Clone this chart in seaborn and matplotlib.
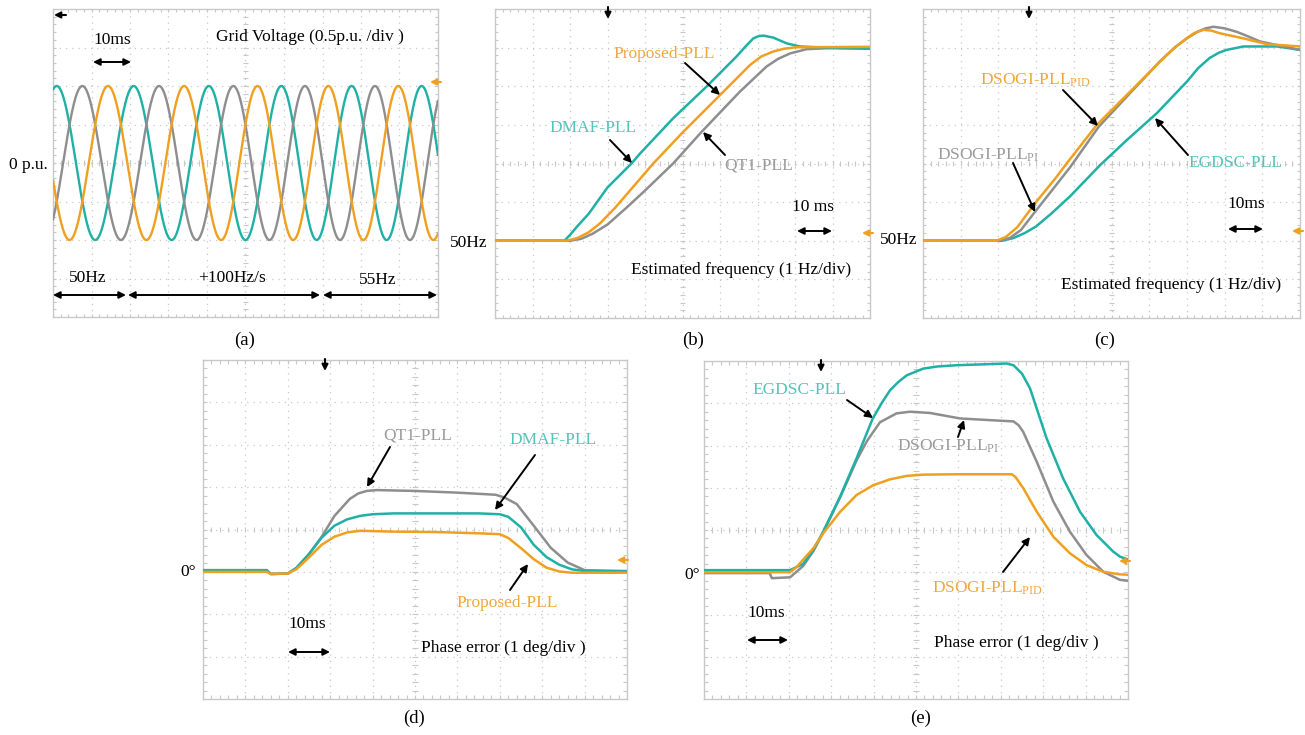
import numpy as np
import pandas as pd
import matplotlib
matplotlib.use("Agg")
import matplotlib.pyplot as plt
from matplotlib.patches import FancyArrowPatch
import seaborn as sns

# ---------------- data ----------------
# (a) grid voltage, three phases; frequency profile as labelled in the chart
va_amplitude_pu = 1.0
f_start_hz = 50.0
f_end_hz = 55.0
rocof_hz_per_s = 100.0
ramp_start_ms = 18.7
phase_a_peak_ms = 0.96
phase_names = ["Va", "Vb", "Vc"]
phase_shift_deg = [0, -120, 120]

# (b) estimated frequency (Hz) vs time (ms)
b_dmaf_t = [0, 18.5, 20, 22, 25, 30, 36.4, 38.7, 47.5, 56.4, 64.4, 67, 68.9, 70.3, 71.6, 74.2, 77.8, 81.3, 92, 100]
b_dmaf_f = [50, 50, 50.15, 50.38, 50.7, 51.38, 52.0, 52.26, 53.17, 53.99, 54.77, 55.05, 55.24, 55.3, 55.31, 55.26, 55.11, 55.03, 54.98, 54.97]
b_prop_t = [0, 19, 22, 25, 28, 32, 36, 42.2, 50, 60, 68, 71, 74.2, 77, 80.4, 100]
b_prop_f = [50, 50, 50.07, 50.22, 50.45, 50.85, 51.3, 52.0, 52.8, 53.77, 54.55, 54.77, 54.9, 54.97, 55.01, 55.02]
b_qt1_t = [0, 20, 23, 26, 30, 35, 40, 47.5, 55.1, 65.3, 72.4, 75.5, 78.7, 83.1, 92, 100]
b_qt1_f = [50, 50, 50.05, 50.18, 50.42, 50.85, 51.3, 52.0, 52.82, 53.86, 54.51, 54.71, 54.85, 54.96, 55.0, 55.0]

# (c) estimated frequency (Hz) vs time (ms)
c_pid_t = [0, 19.5, 22, 25, 29.8, 35, 38.1, 46.1, 54, 62.9, 66.5, 69.9, 72, 74.4, 76.5, 78.8, 85, 91.2, 100]
c_pid_f = [50, 50, 50.1, 50.35, 50.98, 51.6, 52.0, 53.0, 53.77, 54.64, 54.98, 55.24, 55.38, 55.46, 55.44, 55.37, 55.24, 55.09, 55.03]
c_pi_t = [0, 20, 23, 26, 29.8, 34, 39, 46.6, 55, 63, 67, 70, 73, 75, 77, 80, 83.2, 86, 89.4, 94.7, 100]
c_pi_f = [50, 50, 50.07, 50.28, 50.76, 51.28, 51.9, 52.95, 53.83, 54.66, 55.02, 55.24, 55.42, 55.5, 55.54, 55.5, 55.41, 55.3, 55.16, 55.05, 54.94]
c_egdsc_t = [0, 21, 24, 27, 30, 34, 39, 47, 54, 62, 70, 73, 76, 78.5, 80.5, 85, 94, 100]
c_egdsc_f = [50, 50, 50.07, 50.2, 50.37, 50.7, 51.15, 51.96, 52.6, 53.3, 54.12, 54.47, 54.73, 54.87, 54.94, 55.03, 55.03, 54.94]

# (d) phase error (deg) vs time (ms)
d_prop_t = [0, 15, 16, 20, 22, 25, 28, 31, 34, 37, 45, 55, 65, 70, 72, 75, 78, 81, 84, 87, 100]
d_prop_e = [0, 0, -0.05, -0.04, 0.06, 0.34, 0.64, 0.83, 0.93, 0.97, 0.95, 0.94, 0.91, 0.89, 0.80, 0.56, 0.30, 0.10, 0.01, -0.02, -0.02]
d_dmaf_t = [0, 15, 16, 20, 22, 25, 28, 31, 34, 37, 40, 45, 55, 65, 70, 72, 75, 78, 81, 84, 87, 90, 100]
d_dmaf_e = [0.04, 0.04, -0.05, -0.04, 0.09, 0.42, 0.81, 1.09, 1.24, 1.32, 1.36, 1.38, 1.38, 1.38, 1.36, 1.30, 1.05, 0.64, 0.35, 0.17, 0.06, 0.02, 0.01]
d_qt1_t = [0, 15, 16, 20, 22, 25, 28, 31, 34.6, 36.6, 38.6, 41, 50, 60, 69, 71, 74, 78, 82, 86, 90, 100]
d_qt1_e = [0.04, 0.04, -0.05, -0.04, 0.09, 0.42, 0.83, 1.32, 1.72, 1.85, 1.91, 1.93, 1.91, 1.87, 1.82, 1.76, 1.60, 1.09, 0.57, 0.22, 0.04, 0.02]

# (e) phase error (deg) vs time (ms)
e_egdsc_t = [0, 15.6, 20.3, 23.4, 25.8, 28.1, 32.1, 36, 39.8, 42, 43.9, 45.8, 47.8, 51.7, 55, 59.6, 71.4, 73, 75, 76.9, 80.8, 84.7, 88.7, 92.6, 96.5, 98.1, 100]
e_egdsc_e = [0.05, 0.05, 0.05, 0.2, 0.53, 0.96, 1.79, 2.7, 3.64, 4.02, 4.31, 4.5, 4.66, 4.82, 4.87, 4.9, 4.94, 4.9, 4.7, 4.35, 3.17, 2.22, 1.43, 0.88, 0.49, 0.37, 0.3]
e_pi_t = [0, 15.5, 16, 20.3, 23.4, 25.8, 28.1, 32.1, 36, 38.4, 41.5, 45.4, 48.6, 53.3, 60.4, 67.5, 73, 74.2, 75.3, 78.5, 82.4, 86.3, 90.2, 94.2, 98.1, 100]
e_pi_e = [-0.02, -0.02, -0.14, -0.12, 0.15, 0.5, 0.94, 1.77, 2.65, 3.1, 3.55, 3.76, 3.8, 3.77, 3.64, 3.6, 3.57, 3.48, 3.32, 2.61, 1.67, 0.96, 0.41, 0.01, -0.18, -0.2]
e_pid_t = [0, 15.5, 20.3, 21.9, 25.8, 28.1, 32.1, 36, 39.9, 43.9, 47.8, 51.7, 60, 72.6, 73.5, 75.3, 78.5, 82.4, 86.3, 90.2, 94.2, 98.1, 100]
e_pid_e = [0, 0, 0, 0.13, 0.57, 0.92, 1.43, 1.83, 2.06, 2.2, 2.28, 2.31, 2.32, 2.32, 2.25, 1.99, 1.43, 0.84, 0.45, 0.17, 0.01, -0.05, -0.06]

# ---------------- style ----------------
TEAL = "#1fb0a6"
GRAY = "#8e8e8e"
ORANGE = "#f0a020"
TEAL_T = "#55c3bb"
GRAY_T = "#9a9a9a"
ORANGE_T = "#f0a83a"
GRID = "#c8c8c8"
FS = 12.5

sns.set_theme(style="white")
plt.rcParams["font.family"] = ["Liberation Serif", "DejaVu Serif"]
plt.rcParams["mathtext.fontset"] = "custom"
plt.rcParams["mathtext.rm"] = "Liberation Serif"
plt.rcParams["mathtext.it"] = "Liberation Serif:italic"
plt.rcParams["mathtext.bf"] = "Liberation Serif:bold"

W, H = 1305, 735
fig = plt.figure(figsize=(W / 100, H / 100), dpi=100)
fig.patch.set_facecolor("white")


def add_panel(x0, y0, x1, y1):
    return fig.add_axes([x0 / W, 1 - y1 / H, (x1 - x0) / W, (y1 - y0) / H])


def scope(ax, ylo, per_div):
    ax.set_facecolor("white")
    ax.set_xlim(0, 100)
    ax.set_ylim(ylo, ylo + 8 * per_div)
    ax.set_xticks([])
    ax.set_yticks([])
    ax.set_xlabel("")
    ax.set_ylabel("")
    yhi = ylo + 8 * per_div
    for i in range(1, 10):
        ax.axvline(i * 10, color=GRID, lw=0.9, ls=(0, (1, 4)), zorder=0)
    for j in range(1, 8):
        ax.axhline(ylo + j * per_div, color=GRID, lw=0.9, ls=(0, (1, 4)), zorder=0)
    xm = np.arange(0, 100.01, 2)
    ym = ylo + np.arange(0, 8.001, 0.2) * per_div
    yc = ylo + 4 * per_div
    kw = dict(color=GRID, lw=0.8, zorder=0)
    ax.vlines(xm, yc - 0.07 * per_div, yc + 0.07 * per_div, **kw)
    ax.hlines(ym, 50 - 0.7, 50 + 0.7, **kw)
    ax.vlines(xm, ylo, ylo + 0.09 * per_div, **kw)
    ax.vlines(xm, yhi - 0.09 * per_div, yhi, **kw)
    ax.hlines(ym, 0, 0.9, **kw)
    ax.hlines(ym, 99.1, 100, **kw)
    for s in ax.spines.values():
        s.set_color(GRID)
        s.set_linewidth(1.0)


def trace(ax, t, y, color):
    sns.lineplot(x=t, y=y, ax=ax, color=color, lw=1.8, estimator=None, sort=False, zorder=3)


def fx(x, y):
    return (x / W, 1 - y / H)


def txt(x, y, s, color="black", size=FS, ha="center"):
    fig.text(x / W, 1 - y / H, s, color=color, fontsize=size, ha=ha, va="center")


def arrow(x0, y0, x1, y1, style="-|>", color="black", lw=1.4, ms=11):
    p = FancyArrowPatch(fx(x0, y0), fx(x1, y1), transform=fig.transFigure,
                        arrowstyle=style, mutation_scale=ms, lw=lw, color=color,
                        shrinkA=0, shrinkB=0, zorder=10)
    fig.add_artist(p)


def marker_down(x, y):
    arrow(x, y - 8, x, y + 4, ms=9, lw=1.5)


def marker_left(x, y, color):
    arrow(x + 9, y, x - 2, y, ms=9, lw=1.5, color=color)


# ---------------- (a) grid voltage ----------------
ax_a = add_panel(53, 9, 438, 317)
t_a = np.linspace(0, 100, 2001)
ts = t_a / 1000.0
tr = ramp_start_ms / 1000.0
t_end = tr + (f_end_hz - f_start_hz) / rocof_hz_per_s
cyc = f_start_hz * ts
cyc = np.where(ts > tr, f_start_hz * ts + 0.5 * rocof_hz_per_s * (ts - tr) ** 2, cyc)
cyc_end = f_start_hz * t_end + 0.5 * rocof_hz_per_s * (t_end - tr) ** 2
cyc = np.where(ts > t_end, cyc_end + f_end_hz * (ts - t_end), cyc)
theta = 2 * np.pi * (cyc - f_start_hz * phase_a_peak_ms / 1000.0)
rows = []
for name, sh in zip(phase_names, phase_shift_deg):
    rows.append(pd.DataFrame({"t": t_a, "v": va_amplitude_pu * np.cos(theta + np.deg2rad(sh)), "phase": name}))
df_a = pd.concat(rows)
sns.lineplot(data=df_a, x="t", y="v", hue="phase", palette=[TEAL, GRAY, ORANGE],
             ax=ax_a, lw=1.7, estimator=None, sort=False, legend=False, zorder=3)
scope(ax_a, -2.0, 0.5)

txt(112, 40, "10ms")
arrow(93, 62, 131, 62, style="<|-|>", ms=10)
txt(310, 37, "Grid Voltage (0.5p.u. /div )")
txt(48, 165, "0 p.u.", ha="right")
txt(88, 278, "50Hz")
txt(232, 278, "+100Hz/s")
txt(378, 280, "55Hz")
arrow(53, 295, 126, 295, style="<|-|>", ms=10)
arrow(128, 295, 320, 295, style="<|-|>", ms=10)
arrow(323, 295, 437, 295, style="<|-|>", ms=10)
arrow(66, 15, 54, 15, ms=9, lw=1.5)
marker_left(432, 82, ORANGE)

# ---------------- (b) ----------------
ax_b = add_panel(495, 9, 870, 318)
trace(ax_b, b_qt1_t, b_qt1_f, GRAY)
trace(ax_b, b_dmaf_t, b_dmaf_f, TEAL)
trace(ax_b, b_prop_t, b_prop_f, ORANGE)
scope(ax_b, 48.0, 1.0)
txt(664, 54, "Proposed-PLL", ORANGE_T)
txt(593, 128, "DMAF-PLL", TEAL_T)
txt(759, 165, "QT1-PLL", GRAY_T)
txt(813, 207, "10 ms")
arrow(797, 231, 832, 231, style="<|-|>", ms=10)
txt(741, 270, "Estimated frequency (1 Hz/div)")
txt(487, 243, "50Hz", ha="right")
arrow(685, 63, 720, 95)
arrow(610, 140, 632, 163)
arrow(725, 155, 703, 132)
marker_down(608, 15)
marker_left(864, 233, ORANGE)

# ---------------- (c) ----------------
ax_c = add_panel(923, 9, 1300, 318)
trace(ax_c, c_egdsc_t, c_egdsc_f, TEAL)
trace(ax_c, c_pi_t, c_pi_f, GRAY)
trace(ax_c, c_pid_t, c_pid_f, ORANGE)
scope(ax_c, 48.0, 1.0)
txt(980, 80, r"DSOGI-PLL$_{\mathrm{PID}}$", ORANGE_T, ha="left")
txt(937, 155, r"DSOGI-PLL$_{\mathrm{PI}}$", GRAY_T, ha="left")
txt(1235, 163, "EGDSC-PLL", TEAL_T)
txt(1246, 204, "10ms")
arrow(1228, 229, 1263, 229, style="<|-|>", ms=10)
txt(1171, 285, "Estimated frequency (1 Hz/div)")
txt(917, 240, "50Hz", ha="right")
arrow(1063, 90, 1098, 126)
arrow(1013, 163, 1035, 212)
arrow(1188, 155, 1155, 118)
marker_down(1029, 15)
marker_left(1294, 231, ORANGE)

# ---------------- (d) ----------------
ax_d = add_panel(203, 360, 627, 699)
trace(ax_d, d_qt1_t, d_qt1_e, GRAY)
trace(ax_d, d_dmaf_t, d_dmaf_e, TEAL)
trace(ax_d, d_prop_t, d_prop_e, ORANGE)
scope(ax_d, -3.0, 1.0)
txt(418, 435, "QT1-PLL", GRAY_T)
txt(553, 440, "DMAF-PLL", TEAL_T)
txt(507, 603, "Proposed-PLL", ORANGE_T)
txt(307, 624, "10ms")
arrow(288, 652, 330, 652, style="<|-|>", ms=10)
txt(503, 648, "Phase error (1 deg/div )")
txt(196, 572, "0°", ha="right")
arrow(390, 447, 367, 487)
arrow(535, 455, 495, 510)
arrow(510, 590, 528, 564)
marker_down(325, 367)
marker_left(619, 560, ORANGE)

# ---------------- (e) ----------------
ax_e = add_panel(704, 361, 1128, 699)
trace(ax_e, e_pi_t, e_pi_e, GRAY)
trace(ax_e, e_egdsc_t, e_egdsc_e, TEAL)
trace(ax_e, e_pid_t, e_pid_e, ORANGE)
scope(ax_e, -3.0, 1.0)
txt(799, 390, "EGDSC-PLL", TEAL_T)
txt(897, 446, r"DSOGI-PLL$_{\mathrm{PI}}$", GRAY_T, ha="left")
txt(932, 588, r"DSOGI-PLL$_{\mathrm{PID}}$", ORANGE_T, ha="left")
txt(766, 613, "10ms")
arrow(747, 640, 788, 640, style="<|-|>", ms=10)
txt(1016, 643, "Phase error (1 deg/div )")
txt(700, 575, "0°", ha="right")
arrow(847, 400, 873, 418)
arrow(958, 437, 964, 420)
arrow(1003, 572, 1030, 537)
marker_down(821, 368)
marker_left(1121, 561, ORANGE)

# ---------------- panel labels ----------------
for lab, x, y in [("(a)", 245, 340), ("(b)", 693, 340), ("(c)", 1105, 340),
                  ("(d)", 414, 718), ("(e)", 921, 718)]:
    txt(x, y, lab, size=13.5)

fig.savefig("out.png", dpi=100, facecolor="white")
